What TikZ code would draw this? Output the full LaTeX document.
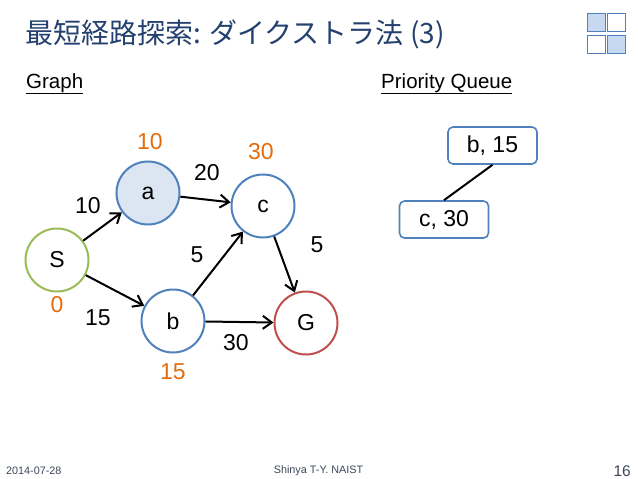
\documentclass[tikz,border=0pt]{standalone}
\usepackage{fontspec}
\setmainfont{Liberation Sans}
\newfontfamily\jpfont{Noto Sans CJK JP}
\usetikzlibrary{arrows.meta}

\definecolor{titleblue}{RGB}{36,64,110}
\definecolor{nodeblue}{RGB}{79,129,189}
\definecolor{nodegreen}{RGB}{155,187,89}
\definecolor{nodered}{RGB}{192,80,77}
\definecolor{distorange}{RGB}{228,108,10}
\definecolor{visited}{RGB}{220,230,242}
\definecolor{logofill}{RGB}{198,217,241}
\definecolor{footgray}{RGB}{60,70,90}

\tikzset{
  vertex/.style={circle,draw=nodeblue,line width=2pt,minimum size=63pt,inner sep=0pt,font=\fontsize{23}{27}\selectfont},
  edge/.style={->,line width=2pt,>={Straight Barb[length=9pt,width=13pt,line width=2pt]}},
  weight/.style={font=\fontsize{23}{27}\selectfont},
  dist/.style={text=distorange,font=\fontsize{23}{27}\selectfont},
  qitem/.style={draw=nodeblue,line width=1.6pt,rounded corners=5pt,minimum width=89pt,minimum height=37pt,font=\fontsize{23}{27}\selectfont},
  foot/.style={text=footgray,font=\fontsize{10.8}{13}\selectfont}
}

\begin{document}
\begin{tikzpicture}[x=1pt,y=-1pt]
\useasboundingbox (0,0) rectangle (638,479);
% title and logo
\node[anchor=west,inner sep=0pt,text=titleblue,font=\jpfont\fontsize{28}{32}\selectfont] (title) at (25,34) {最短経路探索: ダイクストラ法 (3)};
\foreach \i/\j/\f in {0/0/logofill,1/0/white,0/1/white,1/1/logofill}
  \draw[nodeblue,fill=\f,line width=0.8pt] ({587+20*\i},{13+22*\j}) rectangle ++(18,18);

% headings
\node[anchor=base west,inner sep=0pt,font=\fontsize{20.5}{24}\selectfont] (hgraph) at (26,88) {\underline{Graph}};
\node[anchor=base west,inner sep=0pt,font=\fontsize{20.5}{24}\selectfont] (hqueue) at (381,88) {\underline{Priority Queue}};

% graph
\node[vertex,draw=nodegreen] (S) at (57,260) {S};
\node[vertex,fill=visited] (a) at (148,193) {a};
\node[vertex] (c) at (263,206) {c};
\node[vertex] (b) at (173,321) {b};
\node[vertex,draw=nodered] (G) at (306,323) {G};

\draw[edge] (S) -- (a);
\draw[edge] (S) -- (b);
\draw[edge] (a) -- (c);
\draw[edge] (b) -- (c);
\draw[edge] (b) -- (G);
\draw[edge] (c) -- (G);

\node[weight] (wSa) at (88,206) {10};
\node[weight] (wSb) at (98,318) {15};
\node[weight] (wac) at (207,173) {20};
\node[weight] (wbc) at (197,255) {5};
\node[weight] (wcG) at (317,245) {5};
\node[weight] (wbG) at (236,343) {30};

% distances
\node[dist] (dS) at (57,305) {0};
\node[dist] (da) at (150,142) {10};
\node[dist] (dc) at (261,152) {30};
\node[dist] (db) at (173,372) {15};

% priority queue
\node[qitem] (q1) at (492.5,145.5) {b, 15};
\node[qitem] (q2) at (444,219.5) {c, 30};
\draw[line width=2pt] (q1.south) -- (q2.north);

% footer
\node[foot,anchor=west,inner sep=0pt] (date) at (6,471) {2014-07-28};
\node[foot,inner sep=0pt] (author) at (318.5,471) {Shinya T-Y. NAIST};
\node[foot,anchor=east,inner sep=0pt,font=\fontsize{15.5}{18}\selectfont] (page) at (631,471) {16};
\end{tikzpicture}
\end{document}
